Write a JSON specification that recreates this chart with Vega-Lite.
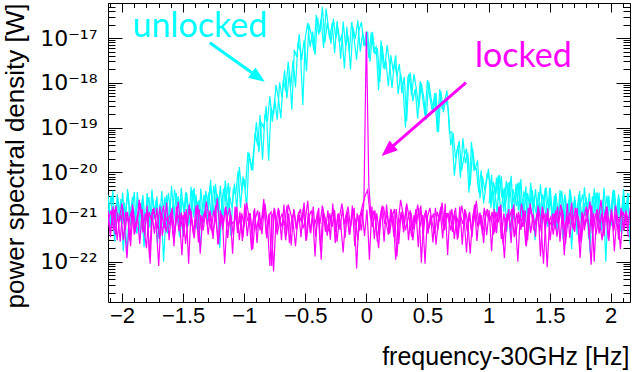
{
"$schema": "https://vega.github.io/schema/vega-lite/v6.json",
"width": 522, "height": 299,
"autosize": "none",
"padding": {"left": 108, "top": 3, "right": 3, "bottom": 70},
"config": {"view": {"stroke": null}, "axis": {"grid": false, "domainColor": "#000", "tickColor": "#000", "labelColor": "#000", "titleColor": "#000", "labelFont": "Liberation Sans", "titleFont": "Liberation Sans", "domainWidth": 1, "tickWidth": 1, "titleFontWeight": "normal"}},
"datasets": {
"curvesA": [
{"x":-2.12,"u":2.5e-21,"l":1.2e-21},{"x":-2.1,"u":5.6e-22,"l":5e-22},{"x":-2.08,"u":1.5e-21,"l":8e-22},{"x":-2.06,"u":2.8e-22,"l":1.5e-21},{"x":-2.04,"u":3.2e-21,"l":3e-22},{"x":-2.02,"u":9.8e-22,"l":1e-21},{"x":-2,"u":7e-22,"l":2e-21},{"x":-1.98,"u":2.1e-21,"l":6e-22},{"x":-1.96,"u":1.4e-22,"l":1.2e-22},{"x":-1.94,"u":1.7e-21,"l":9e-22},{"x":-1.92,"u":1.26e-21,"l":1.4e-21},{"x":-1.9,"u":3.6e-21,"l":4e-22},{"x":-1.88,"u":4.2e-22,"l":7e-22},{"x":-1.86,"u":8.4e-22,"l":2.4e-21},{"x":-1.84,"u":2e-21,"l":1.1e-21},{"x":-1.82,"u":2.1e-22,"l":5.5e-22},{"x":-1.8,"u":1.4e-21,"l":2e-22},{"x":-1.78,"u":2.8e-21,"l":1.3e-21},{"x":-1.76,"u":6.3e-22,"l":8.5e-22},{"x":-1.74,"u":1.1e-21,"l":1.6e-21},{"x":-1.72,"u":2.4e-21,"l":6.5e-22},{"x":-1.7,"u":3.5e-22,"l":8e-23},{"x":-1.68,"u":1.8e-21,"l":1e-21},{"x":-1.66,"u":1e-22,"l":1.8e-21},{"x":-1.64,"u":1.26e-21,"l":4.5e-22},{"x":-1.62,"u":3.4e-21,"l":9.5e-22},
{"x":-1.6,"u":1e-21,"l":1.2e-21},{"x":-1.58,"u":2e-21,"l":3.5e-22},{"x":-1.56,"u":6.3e-22,"l":7.5e-22},{"x":-1.54,"u":2.9e-21,"l":2.2e-21},{"x":-1.52,"u":1.26e-21,"l":6e-22},{"x":-1.5,"u":3.6e-22,"l":1.1e-21},{"x":-1.48,"u":3.4e-21,"l":2.5e-22},{"x":-1.46,"u":1.8e-21,"l":9e-22},{"x":-1.44,"u":7.2e-22,"l":1.5e-21},{"x":-1.42,"u":4e-21,"l":5e-22},{"x":-1.4,"u":1.1e-21,"l":7e-22},{"x":-1.38,"u":2.2e-21,"l":1.9e-21},{"x":-1.36,"u":1.8e-22,"l":1.5e-22},{"x":-1.34,"u":1.5e-21,"l":1e-21},{"x":-1.32,"u":2.7e-21,"l":1.3e-21},
{"x":-1.3,"u":7.5e-22,"l":6.5e-22},{"x":-1.28,"u":5e-21,"l":1.4e-21},{"x":-1.26,"u":1.9e-21,"l":4e-22},{"x":-1.24,"u":1.25e-21,"l":8e-22},{"x":-1.22,"u":3.2e-21,"l":2.6e-21},{"x":-1.2,"u":2e-22,"l":5.5e-22},{"x":-1.18,"u":2.5e-21,"l":1.1e-21},{"x":-1.16,"u":4.5e-21,"l":9e-23},{"x":-1.14,"u":1e-21,"l":9e-22},{"x":-1.12,"u":3e-21,"l":1.6e-21},{"x":-1.1,"u":1.6e-21,"l":7e-22},
{"x":-1.08,"u":5.6e-21,"l":8e-22},{"x":-1.06,"u":1.5e-21,"l":1.7e-21},{"x":-1.04,"u":1.3e-20,"l":3e-22},{"x":-1.02,"u":3.9e-21,"l":1.2e-21},{"x":-1,"u":7e-21,"l":6e-22},{"x":-0.98,"u":1.5e-21,"l":2.1e-21},{"x":-0.96,"u":2.7e-20,"l":9.5e-22},{"x":-0.94,"u":1.1e-20,"l":1.8e-22},{"x":-0.92,"u":3.6e-20,"l":1.4e-21},{"x":-0.9,"u":1.3e-19,"l":5e-22},{"x":-0.88,"u":2.8e-20,"l":1e-21},{"x":-0.86,"u":1.3e-19,"l":7e-22},{"x":-0.84,"u":9.8e-20,"l":2.5e-21},{"x":-0.82,"u":3e-19,"l":4e-22},{"x":-0.8,"u":1.8e-20,"l":1.1e-21},{"x":-0.78,"u":2.75e-19,"l":1.3e-21},{"x":-0.76,"u":1.9e-19,"l":6e-23},{"x":-0.74,"u":9e-19,"l":8e-22},{"x":-0.72,"u":4.5e-19,"l":1.6e-21},{"x":-0.7,"u":1.6e-19,"l":6e-22},{"x":-0.68,"u":1.2e-18,"l":9e-22},{"x":-0.66,"u":6.5e-19,"l":3e-22},{"x":-0.64,"u":3e-18,"l":1.9e-21},{"x":-0.62,"u":8e-19,"l":1.2e-21},{"x":-0.6,"u":3.2e-18,"l":7.5e-22},{"x":-0.58,"u":8e-19,"l":2.2e-22},{"x":-0.56,"u":8e-18,"l":1e-21},{"x":-0.54,"u":5e-18,"l":1.5e-21},{"x":-0.52,"u":3.2e-19,"l":5.5e-22},{"x":-0.5,"u":1.04e-17,"l":8.5e-22},{"x":-0.48,"u":2.2e-17,"l":2.3e-21},{"x":-0.46,"u":6.3e-18,"l":4.5e-22},{"x":-0.44,"u":1.4e-17,"l":1.1e-21},{"x":-0.42,"u":4.2e-18,"l":1.3e-22},{"x":-0.4,"u":2.9e-17,"l":1.3e-21},{"x":-0.38,"u":1.35e-17,"l":7e-22},{"x":-0.36,"u":5e-17,"l":1.8e-21},{"x":-0.34,"u":8e-18,"l":9e-22},{"x":-0.32,"u":2.2e-17,"l":3.8e-22},{"x":-0.3,"u":9.6e-18,"l":1.2e-21},
{"x":-0.28,"u":2.2e-17,"l":6e-22},{"x":-0.26,"u":4.6e-18,"l":1.4e-21},{"x":-0.24,"u":2.4e-17,"l":2.8e-22},{"x":-0.22,"u":8e-18,"l":1e-21},{"x":-0.2,"u":1.2e-17,"l":2e-21},{"x":-0.18,"u":2.1e-18,"l":7e-22},{"x":-0.16,"u":1.8e-17,"l":1.2e-21},{"x":-0.14,"u":5e-18,"l":4e-22},{"x":-0.12,"u":2.3e-17,"l":9e-22},{"x":-0.1,"u":9.5e-18,"l":1.6e-21},{"x":-0.08,"u":3.3e-18,"l":7e-23},{"x":-0.06,"u":1.5e-17,"l":1.1e-21},{"x":-0.04,"u":2.3e-17,"l":5e-22},{"x":-0.02,"u":6.6e-18,"l":2.2e-21},{"x":0,"u":1.4e-17,"l":1.38e-17},
{"x":0.02,"u":3.6e-18,"l":5e-21},{"x":0.04,"u":1.33e-17,"l":9e-22},{"x":0.06,"u":5e-18,"l":1.3e-21},{"x":0.08,"u":6.4e-18,"l":6.5e-22},{"x":0.1,"u":6.8e-19,"l":2e-22},{"x":0.12,"u":8.8e-18,"l":1.1e-21},{"x":0.14,"u":2.1e-18,"l":1.7e-21},{"x":0.16,"u":3.1e-18,"l":8e-22},{"x":0.18,"u":8.4e-19,"l":4e-22},{"x":0.2,"u":4.1e-18,"l":1.5e-21},{"x":0.22,"u":1.8e-18,"l":1e-21},{"x":0.24,"u":4.1e-18,"l":1.1e-22},{"x":0.26,"u":5.6e-19,"l":7e-22},{"x":0.28,"u":1.6e-18,"l":2.4e-21},{"x":0.3,"u":7.7e-19,"l":1.2e-21},{"x":0.32,"u":1e-19,"l":5e-22},{"x":0.34,"u":1.35e-18,"l":9e-22},{"x":0.36,"u":1.6e-18,"l":1.4e-21},{"x":0.38,"u":3.9e-19,"l":3e-22},{"x":0.4,"u":7.3e-19,"l":8e-22},{"x":0.42,"u":1.6e-19,"l":1.9e-21},{"x":0.44,"u":1.08e-18,"l":6e-22},{"x":0.46,"u":4.8e-19,"l":1.1e-21},{"x":0.48,"u":1.85e-19,"l":9e-23},{"x":0.5,"u":1.15e-18,"l":1e-21},{"x":0.52,"u":4.7e-19,"l":1.6e-21},{"x":0.54,"u":2.25e-19,"l":7e-22},{"x":0.56,"u":5.9e-19,"l":4.2e-22},{"x":0.58,"u":8e-20,"l":1.3e-21},{"x":0.6,"u":7.2e-19,"l":8e-22},{"x":0.62,"u":2.6e-19,"l":2.1e-21},{"x":0.64,"u":4e-19,"l":5e-22},{"x":0.66,"u":6.7e-19,"l":1.2e-21},
{"x":0.68,"u":7.6e-20,"l":7e-22},{"x":0.7,"u":8e-20,"l":1.5e-21},{"x":0.72,"u":8.4e-21,"l":3.2e-22},{"x":0.74,"u":2.75e-20,"l":1e-21},{"x":0.76,"u":5e-20,"l":6e-22},{"x":0.78,"u":1.1e-20,"l":1.8e-21},{"x":0.8,"u":2.25e-20,"l":9e-22},{"x":0.82,"u":3.4e-20,"l":1.6e-22},{"x":0.84,"u":3.5e-21,"l":1.2e-21},{"x":0.86,"u":4.8e-20,"l":5e-22},{"x":0.88,"u":1.1e-20,"l":8e-22},{"x":0.9,"u":1.2e-20,"l":2.3e-21},{"x":0.92,"u":3.5e-21,"l":6.5e-22},{"x":0.94,"u":1.1e-20,"l":1.1e-21},{"x":0.96,"u":2e-21,"l":2.6e-22},{"x":0.98,"u":5.3e-21,"l":1.4e-21},{"x":1,"u":1.2e-20,"l":9e-22},
{"x":1.02,"u":1.6e-21,"l":1e-21},{"x":1.04,"u":6e-21,"l":4e-22},{"x":1.06,"u":3.2e-21,"l":1.3e-21},{"x":1.08,"u":8.4e-21,"l":7.5e-22},{"x":1.1,"u":1e-21,"l":1.9e-21},{"x":1.12,"u":3.5e-21,"l":2.4e-22},{"x":1.14,"u":1.9e-21,"l":9e-22},{"x":1.16,"u":5.8e-21,"l":1.2e-21},{"x":1.18,"u":3.2e-22,"l":5.5e-22},{"x":1.2,"u":4.2e-21,"l":1.6e-21},{"x":1.22,"u":2.25e-21,"l":8e-22},{"x":1.24,"u":5.75e-21,"l":1e-22},{"x":1.26,"u":1.25e-21,"l":1.1e-21},{"x":1.28,"u":2.5e-21,"l":6e-22},{"x":1.3,"u":7.5e-22,"l":1.4e-21},{"x":1.32,"u":3.4e-21,"l":3e-22},{"x":1.34,"u":1.4e-21,"l":2e-21},{"x":1.36,"u":4e-21,"l":9.5e-22},{"x":1.38,"u":3e-22,"l":7e-22},{"x":1.4,"u":2.4e-21,"l":1.25e-21},{"x":1.42,"u":1.1e-21,"l":4.8e-22},{"x":1.44,"u":3.2e-21,"l":1.7e-21},{"x":1.46,"u":1.7e-21,"l":1e-21},{"x":1.48,"u":7e-22,"l":7.5e-23},{"x":1.5,"u":4.4e-21,"l":8e-22},
{"x":1.52,"u":9.6e-22,"l":6e-22},{"x":1.54,"u":3e-21,"l":1.2e-21},{"x":1.56,"u":4.8e-22,"l":3.6e-22},{"x":1.58,"u":1.76e-21,"l":9e-22},{"x":1.6,"u":3.8e-21,"l":1.5e-21},{"x":1.62,"u":8e-22,"l":1.4e-22},{"x":1.64,"u":1.44e-21,"l":1.1e-21},{"x":1.66,"u":2.4e-21,"l":7e-22},{"x":1.68,"u":1.9e-22,"l":2.1e-21},{"x":1.7,"u":2.1e-21,"l":5e-22},{"x":1.72,"u":1.2e-21,"l":1.3e-21},{"x":1.74,"u":3.2e-21,"l":8.5e-22},{"x":1.76,"u":6.4e-22,"l":2.8e-22},{"x":1.78,"u":1.6e-21,"l":1e-21},{"x":1.8,"u":2.7e-21,"l":1.7e-21},{"x":1.82,"u":3.2e-22,"l":6.5e-22},{"x":1.84,"u":1.9e-21,"l":8.5e-23},{"x":1.86,"u":1.04e-21,"l":1.2e-21},{"x":1.88,"u":3.5e-21,"l":4e-22},{"x":1.9,"u":5.6e-22,"l":9e-22},{"x":1.92,"u":1.5e-21,"l":2.4e-21},{"x":1.94,"u":2.6e-21,"l":7.5e-22},{"x":1.96,"u":1e-22,"l":1.4e-21},{"x":1.98,"u":2.2e-21,"l":3.2e-22},{"x":2,"u":1.3e-21,"l":1.1e-21},{"x":2.02,"u":4e-21,"l":6e-22},{"x":2.04,"u":7.2e-22,"l":1.8e-21},{"x":2.06,"u":1.76e-21,"l":8e-22},{"x":2.08,"u":4.8e-22,"l":1.9e-22},{"x":2.1,"u":2.9e-21,"l":1.3e-21},{"x":2.12,"u":1.1e-21,"l":9.5e-22},{"x":2.14,"u":3.4e-21,"l":5e-22},{"x":2.16,"u":2.4e-22,"l":1.6e-21}
],
"curvesB": [
{"x":-2.11,"u":1.26e-21,"l":9e-22},{"x":-2.09,"u":2.94e-21,"l":1.4e-21},{"x":-2.07,"u":4.9e-22,"l":5e-22},{"x":-2.05,"u":1.82e-21,"l":1.8e-21},{"x":-2.03,"u":8.4e-22,"l":7.5e-22},{"x":-2.01,"u":2.5e-21,"l":1.1e-21},{"x":-1.99,"u":1.7e-22,"l":3e-22},{"x":-1.97,"u":1.4e-21,"l":1.3e-21},{"x":-1.95,"u":3.5e-21,"l":8e-22},{"x":-1.93,"u":6.3e-22,"l":2.2e-22},{"x":-1.91,"u":1.6e-21,"l":1.6e-21},{"x":-1.89,"u":1.05e-21,"l":6e-22},{"x":-1.87,"u":2.24e-21,"l":1e-21},{"x":-1.85,"u":3.5e-22,"l":2e-21},{"x":-1.83,"u":3.1e-21,"l":4.5e-22},{"x":-1.81,"u":7.7e-22,"l":1.2e-21},{"x":-1.79,"u":1.47e-21,"l":7e-22},{"x":-1.77,"u":5.6e-22,"l":9e-23},{"x":-1.75,"u":2.66e-21,"l":1.5e-21},{"x":-1.73,"u":1.12e-21,"l":9.5e-22},{"x":-1.71,"u":2.5e-22,"l":5.5e-22},{"x":-1.69,"u":1.96e-21,"l":1.7e-21},{"x":-1.67,"u":9.1e-22,"l":3.8e-22},{"x":-1.65,"u":2.8e-21,"l":1.1e-21},{"x":-1.63,"u":4.2e-22,"l":8e-22},
{"x":-1.61,"u":2.16e-21,"l":7e-22},{"x":-1.59,"u":9e-22,"l":1.6e-21},{"x":-1.57,"u":4.1e-21,"l":4e-22},{"x":-1.55,"u":1.53e-21,"l":1.2e-21},{"x":-1.53,"u":3.6e-22,"l":9e-22},{"x":-1.51,"u":2.7e-21,"l":1.4e-22},{"x":-1.49,"u":1.26e-21,"l":1.3e-21},{"x":-1.47,"u":3.4e-21,"l":6e-22},{"x":-1.45,"u":7.2e-22,"l":1.9e-21},{"x":-1.43,"u":2e-21,"l":8.5e-22},{"x":-1.41,"u":4.5e-21,"l":3.3e-22},{"x":-1.39,"u":5.4e-22,"l":1.1e-21},{"x":-1.37,"u":2.4e-21,"l":1.5e-21},{"x":-1.35,"u":1.08e-21,"l":5e-22},{"x":-1.33,"u":3.1e-21,"l":9e-22},{"x":-1.31,"u":1.7e-21,"l":2.2e-21},
{"x":-1.29,"u":3.5e-21,"l":1e-21},{"x":-1.27,"u":1.1e-21,"l":5e-22},{"x":-1.25,"u":5e-21,"l":1.4e-21},{"x":-1.23,"u":1.75e-21,"l":7.5e-22},{"x":-1.21,"u":2.75e-21,"l":2.5e-22},{"x":-1.19,"u":7.5e-22,"l":1.2e-21},{"x":-1.17,"u":4.25e-21,"l":8e-22},{"x":-1.15,"u":2.25e-21,"l":1.7e-21},{"x":-1.13,"u":5.75e-21,"l":6e-22},{"x":-1.11,"u":3.8e-22,"l":1.1e-21},{"x":-1.09,"u":4e-21,"l":4e-22},
{"x":-1.07,"u":3.2e-21,"l":1.3e-21},{"x":-1.05,"u":1.06e-20,"l":6e-22},{"x":-1.03,"u":1.6e-21,"l":1e-21},{"x":-1.01,"u":8e-21,"l":3.5e-22},{"x":-0.99,"u":4.2e-21,"l":1.6e-21},{"x":-0.97,"u":2.8e-20,"l":8e-22},{"x":-0.95,"u":1.8e-20,"l":1.2e-21},{"x":-0.93,"u":1.1e-20,"l":1.9e-22},{"x":-0.91,"u":7.5e-20,"l":9e-22},{"x":-0.89,"u":4e-20,"l":1.4e-21},{"x":-0.87,"u":1.9e-19,"l":5e-22},{"x":-0.85,"u":1.9e-20,"l":1.1e-21},{"x":-0.83,"u":1.95e-19,"l":2e-21},{"x":-0.81,"u":1.36e-19,"l":7e-22},{"x":-0.79,"u":5e-19,"l":8e-23},{"x":-0.77,"u":1.35e-19,"l":1.05e-21},{"x":-0.75,"u":4.2e-19,"l":1.5e-21},{"x":-0.73,"u":1.5e-19,"l":4e-22},{"x":-0.71,"u":1.03e-18,"l":8e-22},{"x":-0.69,"u":4.6e-19,"l":1.2e-21},{"x":-0.67,"u":1.9e-18,"l":6.5e-22},{"x":-0.65,"u":4.5e-19,"l":1.8e-21},{"x":-0.63,"u":1.84e-18,"l":2.6e-22},{"x":-0.61,"u":2.5e-19,"l":9.5e-22},{"x":-0.59,"u":5.4e-18,"l":1.3e-21},{"x":-0.57,"u":3.8e-18,"l":5.5e-22},{"x":-0.55,"u":1.22e-17,"l":1.1e-21},{"x":-0.53,"u":3.2e-18,"l":7.5e-22},{"x":-0.51,"u":8.9e-18,"l":2.1e-21},{"x":-0.49,"u":1.8e-18,"l":3e-22},{"x":-0.47,"u":2e-17,"l":1e-21},{"x":-0.45,"u":1.2e-17,"l":1.4e-21},{"x":-0.43,"u":5.3e-18,"l":6e-22},{"x":-0.41,"u":3.3e-17,"l":9e-22},{"x":-0.39,"u":1.2e-17,"l":1.6e-21},{"x":-0.37,"u":2.7e-17,"l":1.1e-22},{"x":-0.35,"u":6e-18,"l":1.2e-21},{"x":-0.33,"u":4.6e-17,"l":8e-22},{"x":-0.31,"u":1.7e-17,"l":4.8e-22},
{"x":-0.29,"u":7.5e-18,"l":9e-22},{"x":-0.27,"u":2.7e-17,"l":1.5e-21},{"x":-0.25,"u":1e-17,"l":4.5e-22},{"x":-0.23,"u":1.64e-17,"l":1.2e-21},{"x":-0.21,"u":3.4e-18,"l":7e-22},{"x":-0.19,"u":2.35e-17,"l":1.6e-22},{"x":-0.17,"u":6.6e-18,"l":1e-21},{"x":-0.15,"u":1.1e-17,"l":1.7e-21},{"x":-0.13,"u":2e-18,"l":6e-22},{"x":-0.11,"u":1.73e-17,"l":1.3e-21},{"x":-0.09,"u":9.6e-18,"l":8.5e-22},{"x":-0.07,"u":2.5e-17,"l":3e-22},{"x":-0.05,"u":5e-18,"l":1.1e-21},{"x":-0.03,"u":1.32e-17,"l":1.9e-21},{"x":-0.01,"u":6.6e-18,"l":3e-21},
{"x":0.01,"u":1.4e-17,"l":4e-21},{"x":0.03,"u":3e-18,"l":1.1e-21},{"x":0.05,"u":1.39e-17,"l":6e-22},{"x":0.07,"u":4.35e-18,"l":1.4e-21},{"x":0.09,"u":5.9e-18,"l":2.8e-22},{"x":0.11,"u":1.05e-18,"l":9e-22},{"x":0.13,"u":6.7e-18,"l":1.8e-21},{"x":0.15,"u":2e-18,"l":7e-22},{"x":0.17,"u":7e-18,"l":1.2e-21},{"x":0.19,"u":2.6e-18,"l":4.2e-22},{"x":0.21,"u":7.7e-19,"l":1e-21},{"x":0.23,"u":3e-18,"l":1.5e-21},{"x":0.25,"u":1.4e-18,"l":1.3e-22},{"x":0.27,"u":2.64e-18,"l":8e-22},{"x":0.29,"u":5.9e-19,"l":1.3e-21},{"x":0.31,"u":1.37e-18,"l":6.5e-22},{"x":0.33,"u":1.4e-19,"l":2e-21},{"x":0.35,"u":1.6e-18,"l":9.5e-22},{"x":0.37,"u":5.25e-19,"l":3.6e-22},{"x":0.39,"u":1.56e-18,"l":1.1e-21},{"x":0.41,"u":7e-19,"l":7e-22},{"x":0.43,"u":2.75e-19,"l":1.6e-21},{"x":0.45,"u":9.9e-19,"l":9.5e-23},{"x":0.47,"u":4.6e-19,"l":1e-21},{"x":0.49,"u":1.5e-19,"l":1.4e-21},{"x":0.51,"u":1.06e-18,"l":5.5e-22},{"x":0.53,"u":4.6e-19,"l":8.5e-22},{"x":0.55,"u":2.4e-19,"l":1.2e-21},{"x":0.57,"u":5.9e-19,"l":2.4e-22},{"x":0.59,"u":7.8e-20,"l":9e-22},{"x":0.61,"u":6.5e-19,"l":1.7e-21},{"x":0.63,"u":2.2e-19,"l":6e-22},{"x":0.65,"u":4.2e-19,"l":1.15e-21},
{"x":0.67,"u":2.6e-19,"l":1.2e-21},{"x":0.69,"u":4e-20,"l":5e-22},{"x":0.71,"u":7.4e-20,"l":9e-22},{"x":0.73,"u":2e-20,"l":1.6e-21},{"x":0.75,"u":4e-20,"l":3.4e-22},{"x":0.77,"u":7.5e-21,"l":1.1e-21},{"x":0.79,"u":5.75e-20,"l":7e-22},{"x":0.81,"u":1.6e-20,"l":1.4e-21},{"x":0.83,"u":2.75e-20,"l":8e-22},{"x":0.85,"u":5e-21,"l":1.5e-22},{"x":0.87,"u":3.4e-20,"l":1e-21},{"x":0.89,"u":1.13e-20,"l":1.9e-21},{"x":0.91,"u":1.85e-20,"l":6e-22},{"x":0.93,"u":2.6e-21,"l":1.25e-21},{"x":0.95,"u":8.1e-21,"l":4e-22},{"x":0.97,"u":3.9e-21,"l":9e-22},{"x":0.99,"u":9.7e-21,"l":1.5e-21},
{"x":1.01,"u":6.8e-21,"l":8e-22},{"x":1.03,"u":2.4e-21,"l":1.3e-21},{"x":1.05,"u":4.4e-21,"l":4.5e-22},{"x":1.07,"u":1.2e-21,"l":1e-21},{"x":1.09,"u":8.8e-21,"l":1.7e-21},{"x":1.11,"u":2.7e-21,"l":6e-22},{"x":1.13,"u":4.5e-21,"l":1.2e-22},{"x":1.15,"u":4.8e-22,"l":1.1e-21},{"x":1.17,"u":6.1e-21,"l":9e-22},{"x":1.19,"u":1.6e-21,"l":1.5e-21},{"x":1.21,"u":3e-21,"l":3.5e-22},{"x":1.23,"u":1.75e-21,"l":1.2e-21},{"x":1.25,"u":6e-21,"l":7e-22},{"x":1.27,"u":1e-21,"l":2e-21},{"x":1.29,"u":3.75e-21,"l":8.5e-22},{"x":1.31,"u":1.8e-21,"l":2.2e-22},{"x":1.33,"u":5e-22,"l":1.05e-21},{"x":1.35,"u":4e-21,"l":1.4e-21},{"x":1.37,"u":2.2e-21,"l":5e-22},{"x":1.39,"u":1.2e-21,"l":9e-22},{"x":1.41,"u":3.6e-21,"l":1.6e-21},{"x":1.43,"u":7e-22,"l":6.5e-22},{"x":1.45,"u":2.6e-21,"l":9e-23},{"x":1.47,"u":4.6e-21,"l":1.2e-21},{"x":1.49,"u":1.5e-21,"l":7.5e-22},
{"x":1.51,"u":2.1e-21,"l":1e-21},{"x":1.53,"u":6.4e-22,"l":4e-22},{"x":1.55,"u":3.4e-21,"l":1.4e-21},{"x":1.57,"u":1.2e-21,"l":7e-22},{"x":1.59,"u":1.6e-21,"l":1.9e-21},{"x":1.61,"u":3.2e-22,"l":1.1e-21},{"x":1.63,"u":2.7e-21,"l":2.5e-22},{"x":1.65,"u":8.8e-22,"l":9e-22},{"x":1.67,"u":3.8e-21,"l":1.3e-21},{"x":1.69,"u":1.44e-21,"l":5.5e-22},{"x":1.71,"u":2.4e-21,"l":1.6e-21},{"x":1.73,"u":4.8e-22,"l":8e-22},{"x":1.75,"u":1.84e-21,"l":1.2e-22},{"x":1.77,"u":3.2e-21,"l":1.2e-21},{"x":1.79,"u":1.04e-21,"l":6.5e-22},{"x":1.81,"u":2.16e-21,"l":1e-21},{"x":1.83,"u":1.6e-22,"l":2.2e-21},{"x":1.85,"u":2.9e-21,"l":4.2e-22},{"x":1.87,"u":1.36e-21,"l":9.5e-22},{"x":1.89,"u":3.5e-21,"l":1.5e-21},{"x":1.91,"u":7.2e-22,"l":7.5e-22},{"x":1.93,"u":2e-21,"l":3e-22},{"x":1.95,"u":1.12e-21,"l":1.1e-21},{"x":1.97,"u":3e-21,"l":1.7e-21},{"x":1.99,"u":5.6e-22,"l":6e-22},{"x":2.01,"u":1.68e-21,"l":1.3e-21},{"x":2.03,"u":4e-21,"l":1.7e-22},{"x":2.05,"u":9.6e-22,"l":1e-21},{"x":2.07,"u":2.56e-21,"l":8e-22},{"x":2.09,"u":4e-22,"l":1.4e-21},{"x":2.11,"u":2.24e-21,"l":5e-22},{"x":2.13,"u":1.28e-21,"l":1.2e-21},{"x":2.15,"u":3.4e-21,"l":7e-22}
],
"lockedC": [
{"x":-2.115,"l":1.4e-21},{"x":-2.095,"l":3.5e-22},{"x":-2.075,"l":1.7e-21},{"x":-2.055,"l":4e-22},{"x":-2.035,"l":1.2e-21},{"x":-2.015,"l":2.8e-22},{"x":-1.995,"l":1.6e-21},{"x":-1.975,"l":5e-22},{"x":-1.955,"l":1.3e-21},{"x":-1.935,"l":3e-22},{"x":-1.915,"l":1.9e-21},{"x":-1.895,"l":4.5e-22},{"x":-1.875,"l":1.1e-21},{"x":-1.855,"l":2.5e-22},{"x":-1.835,"l":1.5e-21},{"x":-1.815,"l":3.8e-22},{"x":-1.795,"l":1.8e-21},{"x":-1.775,"l":1.2e-22},{"x":-1.755,"l":1.3e-21},{"x":-1.735,"l":4.2e-22},{"x":-1.715,"l":1.6e-21},{"x":-1.695,"l":3.2e-22},{"x":-1.675,"l":1.2e-21},{"x":-1.655,"l":5.5e-22},{"x":-1.635,"l":2.1e-21},{"x":-1.615,"l":3e-22},{"x":-1.595,"l":1.4e-21},{"x":-1.575,"l":2.2e-22},{"x":-1.555,"l":1.7e-21},{"x":-1.535,"l":4.8e-22},{"x":-1.515,"l":1.25e-21},{"x":-1.495,"l":3.6e-22},{"x":-1.475,"l":1.5e-21},{"x":-1.455,"l":9e-23},{"x":-1.435,"l":1.35e-21},{"x":-1.415,"l":4e-22},{"x":-1.395,"l":1.8e-21},{"x":-1.375,"l":2.7e-22},{"x":-1.355,"l":1.1e-21},{"x":-1.335,"l":5e-22},
{"x":-1.315,"l":1.5e-21},{"x":-1.295,"l":4e-22},{"x":-1.275,"l":1.2e-21},{"x":-1.255,"l":3.2e-22},{"x":-1.235,"l":1.8e-21},{"x":-1.215,"l":2.4e-22},{"x":-1.195,"l":1.4e-21},{"x":-1.175,"l":5.2e-22},{"x":-1.155,"l":1.6e-21},{"x":-1.135,"l":3.4e-22},{"x":-1.115,"l":1.15e-21},{"x":-1.095,"l":1.5e-22},{"x":-1.075,"l":1.7e-21},{"x":-1.055,"l":4.4e-22},{"x":-1.035,"l":1.3e-21},{"x":-1.015,"l":2.9e-22},{"x":-0.995,"l":2e-21},{"x":-0.975,"l":3.7e-22},{"x":-0.955,"l":1.2e-21},{"x":-0.935,"l":5e-22},{"x":-0.915,"l":1.55e-21},{"x":-0.895,"l":2.6e-22},{"x":-0.875,"l":1.3e-21},{"x":-0.855,"l":4.1e-22},{"x":-0.835,"l":1.75e-21},{"x":-0.815,"l":3.3e-22},{"x":-0.795,"l":1.1e-21},{"x":-0.775,"l":8e-23},{"x":-0.755,"l":1.6e-21},{"x":-0.735,"l":4.6e-22},{"x":-0.715,"l":1.4e-21},{"x":-0.695,"l":3e-22},{"x":-0.675,"l":1.9e-21},{"x":-0.655,"l":3.9e-22},{"x":-0.635,"l":1.2e-21},{"x":-0.615,"l":2.3e-22},{"x":-0.595,"l":1.5e-21},{"x":-0.575,"l":5.3e-22},{"x":-0.555,"l":1.3e-21},{"x":-0.535,"l":3.5e-22},
{"x":-0.515,"l":1.6e-21},{"x":-0.495,"l":2.9e-22},{"x":-0.475,"l":1.3e-21},{"x":-0.455,"l":4.3e-22},{"x":-0.435,"l":1.7e-21},{"x":-0.415,"l":3.6e-22},{"x":-0.395,"l":1.2e-21},{"x":-0.375,"l":1.8e-22},{"x":-0.355,"l":1.5e-21},{"x":-0.335,"l":4.7e-22},{"x":-0.315,"l":1.4e-21},{"x":-0.295,"l":3.1e-22},{"x":-0.275,"l":2e-21},{"x":-0.255,"l":2.6e-22},{"x":-0.235,"l":1.15e-21},{"x":-0.215,"l":5.1e-22},{"x":-0.195,"l":1.65e-21},{"x":-0.175,"l":3.4e-22},{"x":-0.155,"l":1.3e-21},{"x":-0.135,"l":4e-22},{"x":-0.115,"l":1.8e-21},{"x":-0.095,"l":2.2e-22},{"x":-0.075,"l":1.2e-21},{"x":-0.055,"l":4.9e-22},{"x":-0.035,"l":1.5e-21},{"x":-0.015,"l":3.7e-22},{"x":0.005,"l":1.45e-21},{"x":0.025,"l":1.1e-22},{"x":0.045,"l":1.7e-21},{"x":0.065,"l":3.2e-22},{"x":0.085,"l":1.2e-21},{"x":0.105,"l":4.4e-22},{"x":0.125,"l":1.6e-21},{"x":0.145,"l":2.8e-22},{"x":0.165,"l":1.9e-21},{"x":0.185,"l":5e-22},{"x":0.205,"l":1.3e-21},{"x":0.225,"l":3.6e-22},{"x":0.245,"l":1.5e-21},{"x":0.265,"l":2.5e-22},
{"x":0.285,"l":1.3e-21},{"x":0.305,"l":4.5e-22},{"x":0.325,"l":1.7e-21},{"x":0.345,"l":3e-22},{"x":0.365,"l":1.25e-21},{"x":0.385,"l":5.4e-22},{"x":0.405,"l":1.5e-21},{"x":0.425,"l":2.1e-22},{"x":0.445,"l":1.8e-21},{"x":0.465,"l":3.8e-22},{"x":0.485,"l":1.4e-21},{"x":0.505,"l":4.2e-22},{"x":0.525,"l":1.1e-21},{"x":0.545,"l":2.7e-22},{"x":0.565,"l":1.6e-21},{"x":0.585,"l":5e-22},{"x":0.605,"l":1.35e-21},{"x":0.625,"l":3.3e-22},{"x":0.645,"l":2e-21},{"x":0.665,"l":1.4e-22},{"x":0.685,"l":1.4e-21},{"x":0.705,"l":4.6e-22},{"x":0.725,"l":1.2e-21},{"x":0.745,"l":3.1e-22},{"x":0.765,"l":1.7e-21},{"x":0.785,"l":2.4e-22},{"x":0.805,"l":1.5e-21},{"x":0.825,"l":4.8e-22},{"x":0.845,"l":1.3e-21},{"x":0.865,"l":3.5e-22},{"x":0.885,"l":1.85e-21},{"x":0.905,"l":2.9e-22},{"x":0.925,"l":1.2e-21},{"x":0.945,"l":5.2e-22},{"x":0.965,"l":1.6e-21},{"x":0.985,"l":3.9e-22},{"x":1.005,"l":1.4e-21},{"x":1.025,"l":1.7e-22},{"x":1.045,"l":1.5e-21},{"x":1.065,"l":4.3e-22},
{"x":1.085,"l":1.7e-21},{"x":1.105,"l":3.2e-22},{"x":1.125,"l":1.2e-21},{"x":1.145,"l":4.7e-22},{"x":1.165,"l":1.5e-21},{"x":1.185,"l":2.6e-22},{"x":1.205,"l":1.9e-21},{"x":1.225,"l":3.9e-22},{"x":1.245,"l":1.3e-21},{"x":1.265,"l":5.1e-22},{"x":1.285,"l":1.4e-21},{"x":1.305,"l":2.3e-22},{"x":1.325,"l":1.6e-21},{"x":1.345,"l":4.4e-22},{"x":1.365,"l":1.15e-21},{"x":1.385,"l":3.6e-22},{"x":1.405,"l":1.8e-21},{"x":1.425,"l":1.3e-22},{"x":1.445,"l":1.3e-21},{"x":1.465,"l":4.9e-22},{"x":1.485,"l":1.55e-21},{"x":1.505,"l":3e-22},{"x":1.525,"l":1.2e-21},{"x":1.545,"l":5.3e-22},{"x":1.565,"l":1.7e-21},{"x":1.585,"l":2.8e-22},{"x":1.605,"l":1.4e-21},{"x":1.625,"l":4.1e-22},{"x":1.645,"l":2e-21},{"x":1.665,"l":3.4e-22},{"x":1.685,"l":1.25e-21},{"x":1.705,"l":4.6e-22},{"x":1.725,"l":1.6e-21},{"x":1.745,"l":2.5e-22},{"x":1.765,"l":1.3e-21},{"x":1.785,"l":5e-22},{"x":1.805,"l":1.5e-21},{"x":1.825,"l":3.3e-22},{"x":1.845,"l":1.8e-21},{"x":1.865,"l":1e-22},{"x":1.885,"l":1.4e-21},{"x":1.905,"l":4.2e-22},{"x":1.925,"l":1.2e-21},{"x":1.945,"l":3.7e-22},{"x":1.965,"l":1.7e-21},{"x":1.985,"l":2.9e-22},{"x":2.005,"l":1.5e-21},{"x":2.025,"l":4.8e-22},{"x":2.045,"l":1.3e-21},{"x":2.065,"l":3.1e-22},{"x":2.085,"l":1.6e-21},{"x":2.105,"l":5.2e-22},{"x":2.125,"l":1.4e-21},{"x":2.145,"l":3.5e-22}
],
"unlockedTails": [
{"side":"L","x":-2.115,"u":3.1e-21},{"side":"L","x":-2.095,"u":7e-22},{"side":"L","x":-2.075,"u":3.9e-21},{"side":"L","x":-2.055,"u":4.2e-22},{"side":"L","x":-2.035,"u":2.7e-21},{"side":"L","x":-2.015,"u":8.4e-22},{"side":"L","x":-1.995,"u":3.5e-21},{"side":"L","x":-1.975,"u":5.6e-22},{"side":"L","x":-1.955,"u":4.2e-21},{"side":"L","x":-1.935,"u":9.8e-22},{"side":"L","x":-1.915,"u":2.8e-21},{"side":"L","x":-1.895,"u":4.9e-22},{"side":"L","x":-1.875,"u":3.6e-21},{"side":"L","x":-1.855,"u":7.7e-22},{"side":"L","x":-1.835,"u":2.5e-21},{"side":"L","x":-1.815,"u":3.5e-22},{"side":"L","x":-1.795,"u":3.4e-21},{"side":"L","x":-1.775,"u":6.3e-22},{"side":"L","x":-1.755,"u":4.1e-21},{"side":"L","x":-1.735,"u":9.1e-22},{"side":"L","x":-1.715,"u":2.9e-21},{"side":"L","x":-1.695,"u":5.6e-22},{"side":"L","x":-1.675,"u":3.8e-21},{"side":"L","x":-1.655,"u":7e-22},{"side":"L","x":-1.635,"u":3.1e-21},
{"side":"L","x":-1.615,"u":5.4e-22},{"side":"L","x":-1.595,"u":5e-21},{"side":"L","x":-1.575,"u":1.08e-21},{"side":"L","x":-1.555,"u":3.4e-21},{"side":"L","x":-1.535,"u":7.2e-22},{"side":"L","x":-1.515,"u":4.5e-21},{"side":"L","x":-1.495,"u":1.26e-21},{"side":"L","x":-1.475,"u":3.6e-21},{"side":"L","x":-1.455,"u":6.3e-22},{"side":"L","x":-1.435,"u":4.7e-21},{"side":"L","x":-1.415,"u":9.9e-22},{"side":"L","x":-1.395,"u":3.2e-21},{"side":"L","x":-1.375,"u":4.5e-22},{"side":"L","x":-1.355,"u":4.3e-21},{"side":"L","x":-1.335,"u":8.1e-22},{"side":"L","x":-1.315,"u":3.8e-21},
{"side":"L","x":-1.295,"u":1.6e-21},{"side":"L","x":-1.275,"u":6.75e-21},{"side":"L","x":-1.255,"u":1e-21},{"side":"L","x":-1.235,"u":5.5e-21},{"side":"L","x":-1.215,"u":1.25e-21},{"side":"L","x":-1.195,"u":5e-21},{"side":"L","x":-1.175,"u":7.5e-22},{"side":"L","x":-1.155,"u":6.5e-21},{"side":"L","x":-1.135,"u":1.5e-21},{"side":"L","x":-1.115,"u":4.75e-21},
{"side":"R","x":1.005,"u":2e-21},{"side":"R","x":1.025,"u":8.8e-21},{"side":"R","x":1.045,"u":1.2e-21},{"side":"R","x":1.065,"u":7.6e-21},{"side":"R","x":1.085,"u":2.4e-21},{"side":"R","x":1.105,"u":8e-21},{"side":"R","x":1.125,"u":1.28e-21},{"side":"R","x":1.145,"u":6.4e-21},{"side":"R","x":1.165,"u":2.24e-21},{"side":"R","x":1.185,"u":8.3e-21},{"side":"R","x":1.205,"u":8.8e-22},{"side":"R","x":1.225,"u":5.5e-21},{"side":"R","x":1.245,"u":1.4e-21},{"side":"R","x":1.265,"u":7e-21},{"side":"R","x":1.285,"u":6.3e-22},{"side":"R","x":1.305,"u":4.8e-21},{"side":"R","x":1.325,"u":9e-22},{"side":"R","x":1.345,"u":5.8e-21},{"side":"R","x":1.365,"u":1.3e-21},{"side":"R","x":1.385,"u":4.2e-21},{"side":"R","x":1.405,"u":8e-22},{"side":"R","x":1.425,"u":5.4e-21},{"side":"R","x":1.445,"u":1e-21},{"side":"R","x":1.465,"u":4.4e-21},{"side":"R","x":1.485,"u":6e-22},
{"side":"R","x":1.505,"u":4.5e-21},{"side":"R","x":1.525,"u":9.6e-22},{"side":"R","x":1.545,"u":3e-21},{"side":"R","x":1.565,"u":6.4e-22},{"side":"R","x":1.585,"u":4e-21},{"side":"R","x":1.605,"u":1.1e-21},{"side":"R","x":1.625,"u":3.2e-21},{"side":"R","x":1.645,"u":5.6e-22},{"side":"R","x":1.665,"u":4.2e-21},{"side":"R","x":1.685,"u":8.8e-22},{"side":"R","x":1.705,"u":2.9e-21},{"side":"R","x":1.725,"u":4e-22},{"side":"R","x":1.745,"u":3.8e-21},{"side":"R","x":1.765,"u":7.2e-22},{"side":"R","x":1.785,"u":4.6e-21},{"side":"R","x":1.805,"u":1.04e-21},{"side":"R","x":1.825,"u":3.4e-21},{"side":"R","x":1.845,"u":6.4e-22},{"side":"R","x":1.865,"u":4.3e-21},{"side":"R","x":1.885,"u":8e-22},{"side":"R","x":1.905,"u":3.5e-21},{"side":"R","x":1.925,"u":4.8e-22},{"side":"R","x":1.945,"u":4.5e-21},{"side":"R","x":1.965,"u":9.6e-22},{"side":"R","x":1.985,"u":3e-21},{"side":"R","x":2.005,"u":6.4e-22},{"side":"R","x":2.025,"u":4e-21},{"side":"R","x":2.045,"u":1.1e-21},{"side":"R","x":2.065,"u":3.2e-21},{"side":"R","x":2.085,"u":5.6e-22},{"side":"R","x":2.105,"u":4.2e-21},{"side":"R","x":2.125,"u":8.8e-22},{"side":"R","x":2.145,"u":2.9e-21}
],
"notes": [{"series":"unlocked","label":"unlocked","x":-1.915,"y":1.07e-17},{"series":"locked","label":"locked","x":0.889,"y":2.31e-18}],
"arrows": [{"series":"unlocked","x":-1.2817,"y":7.85e-18,"x2":-0.8845,"y2":1.33e-18},{"series":"locked","x":0.815,"y":1.01e-18,"x2":0.1736,"y2":3.04e-20}],
"heads": [{"series":"unlocked","x":-0.8313,"y":1.05e-18},{"series":"locked","x":0.1245,"y":2.32e-20}]
},
"layer": [
{"data": {"name": "curvesA"},
 "mark": {"type": "line", "color": "#00FFFF", "strokeWidth": 1.2, "clip": true},
 "encoding": {
  "x": {"field": "x", "type": "quantitative", "scale": {"domain": [-2.115, 2.158], "nice": false, "zero": false},
   "axis": {"orient": "bottom", "values": [-2.1,-2,-1.9,-1.8,-1.7,-1.6,-1.5,-1.4,-1.3,-1.2,-1.1,-1,-0.9,-0.8,-0.7,-0.6,-0.5,-0.4,-0.3,-0.2,-0.1,0,0.1,0.2,0.3,0.4,0.5,0.6,0.7,0.8,0.9,1,1.1,1.2,1.3,1.4,1.5,1.6,1.7,1.8,1.9,2,2.1],
    "tickSize": -9, "tickDash": {"condition": {"test": "abs(datum.value*2-round(datum.value*2))>0.01", "value": [4.5, 40]}, "value": [40, 0]},
    "labelExpr": "abs(datum.value*2-round(datum.value*2))>0.01 ? '' : format(datum.value,'~g')",
    "labelFontSize": 22, "labelPadding": 12, "labelFlush": false, "labelOverlap": false,
    "title": "frequency-30GHz [Hz]", "titleFontSize": 25, "titleAlign": "right", "titleBaseline": "alphabetic", "titleX": 521, "titleY": 62}},
  "y": {"field": "u", "type": "quantitative", "scale": {"type": "log", "domain": [1.25e-23, 6.1e-17], "nice": false},
   "axis": {"orient": "left", "values": [2e-23,3e-23,4e-23,5e-23,6e-23,7e-23,8e-23,9e-23,1e-22,2e-22,3e-22,4e-22,5e-22,6e-22,7e-22,8e-22,9e-22,1e-21,2e-21,3e-21,4e-21,5e-21,6e-21,7e-21,8e-21,9e-21,1e-20,2e-20,3e-20,4e-20,5e-20,6e-20,7e-20,8e-20,9e-20,1e-19,2e-19,3e-19,4e-19,5e-19,6e-19,7e-19,8e-19,9e-19,1e-18,2e-18,3e-18,4e-18,5e-18,6e-18,7e-18,8e-18,9e-18,1e-17,2e-17,3e-17,4e-17,5e-17,6e-17],
    "tickSize": -14, "tickDash": {"condition": {"test": "abs(datum.value/pow(10,round(log(datum.value)/LN10))-1)>0.01", "value": [7, 40]}, "value": [40, 0]},
    "labelExpr": "abs(datum.value/pow(10,round(log(datum.value)/LN10))-1)>0.01 ? '' : round(log(datum.value)/LN10)==-17 ? '10⁻¹⁷' : round(log(datum.value)/LN10)==-18 ? '10⁻¹⁸' : round(log(datum.value)/LN10)==-19 ? '10⁻¹⁹' : round(log(datum.value)/LN10)==-20 ? '10⁻²⁰' : round(log(datum.value)/LN10)==-21 ? '10⁻²¹' : '10⁻²²'",
    "labelFont": "DejaVu Sans", "labelFontSize": 22, "labelPadding": 25, "labelFlush": false, "labelOverlap": false,
    "title": "power spectral density [W]", "titleFontSize": 26, "titleAngle": -90, "titleAlign": "right", "titleBaseline": "alphabetic", "titleX": -85, "titleY": 0}}
 }},
{"data": {"name": "curvesB"},
 "mark": {"type": "line", "color": "#00FFFF", "strokeWidth": 1.2, "clip": true},
 "encoding": {
  "x": {"field": "x", "type": "quantitative", "scale": {"domain": [-2.115, 2.158], "nice": false, "zero": false}, "axis": null},
  "y": {"field": "u", "type": "quantitative", "scale": {"type": "log", "domain": [1.25e-23, 6.1e-17], "nice": false}, "axis": null}
 }},
{"data": {"name": "unlockedTails"},
 "mark": {"type": "line", "color": "#00FFFF", "strokeWidth": 1.2, "clip": true},
 "encoding": {
  "x": {"field": "x", "type": "quantitative", "scale": {"domain": [-2.115, 2.158], "nice": false, "zero": false}, "axis": null},
  "y": {"field": "u", "type": "quantitative", "scale": {"type": "log", "domain": [1.25e-23, 6.1e-17], "nice": false}, "axis": null},
  "detail": {"field": "side", "type": "nominal"}
 }},
{"data": {"name": "curvesA"},
 "mark": {"type": "line", "color": "#FF00FF", "strokeWidth": 1.2, "clip": true},
 "encoding": {
  "x": {"field": "x", "type": "quantitative", "scale": {"domain": [-2.115, 2.158], "nice": false, "zero": false},
   "axis": {"orient": "top", "values": [-2.1,-2,-1.9,-1.8,-1.7,-1.6,-1.5,-1.4,-1.3,-1.2,-1.1,-1,-0.9,-0.8,-0.7,-0.6,-0.5,-0.4,-0.3,-0.2,-0.1,0,0.1,0.2,0.3,0.4,0.5,0.6,0.7,0.8,0.9,1,1.1,1.2,1.3,1.4,1.5,1.6,1.7,1.8,1.9,2,2.1],
    "tickSize": -9, "tickDash": {"condition": {"test": "abs(datum.value*2-round(datum.value*2))>0.01", "value": [4.5, 40]}, "value": [40, 0]},
    "labels": false, "title": null}},
  "y": {"field": "l", "type": "quantitative", "scale": {"type": "log", "domain": [1.25e-23, 6.1e-17], "nice": false},
   "axis": {"orient": "right", "values": [2e-23,3e-23,4e-23,5e-23,6e-23,7e-23,8e-23,9e-23,1e-22,2e-22,3e-22,4e-22,5e-22,6e-22,7e-22,8e-22,9e-22,1e-21,2e-21,3e-21,4e-21,5e-21,6e-21,7e-21,8e-21,9e-21,1e-20,2e-20,3e-20,4e-20,5e-20,6e-20,7e-20,8e-20,9e-20,1e-19,2e-19,3e-19,4e-19,5e-19,6e-19,7e-19,8e-19,9e-19,1e-18,2e-18,3e-18,4e-18,5e-18,6e-18,7e-18,8e-18,9e-18,1e-17,2e-17,3e-17,4e-17,5e-17,6e-17],
    "tickSize": -14, "tickDash": {"condition": {"test": "abs(datum.value/pow(10,round(log(datum.value)/LN10))-1)>0.01", "value": [7, 40]}, "value": [40, 0]},
    "labels": false, "title": null}}
 }},
{"data": {"name": "curvesB"},
 "mark": {"type": "line", "color": "#FF00FF", "strokeWidth": 1.2, "clip": true},
 "encoding": {
  "x": {"field": "x", "type": "quantitative", "scale": {"domain": [-2.115, 2.158], "nice": false, "zero": false}, "axis": null},
  "y": {"field": "l", "type": "quantitative", "scale": {"type": "log", "domain": [1.25e-23, 6.1e-17], "nice": false}, "axis": null}
 }},
{"data": {"name": "lockedC"},
 "mark": {"type": "line", "color": "#FF00FF", "strokeWidth": 1.2, "clip": true},
 "encoding": {
  "x": {"field": "x", "type": "quantitative", "scale": {"domain": [-2.115, 2.158], "nice": false, "zero": false}, "axis": null},
  "y": {"field": "l", "type": "quantitative", "scale": {"type": "log", "domain": [1.25e-23, 6.1e-17], "nice": false}, "axis": null}
 }},
{"data": {"name": "arrows"},
 "mark": {"type": "rule", "strokeWidth": 3, "clip": true},
 "encoding": {
  "x": {"field": "x", "type": "quantitative", "scale": {"domain": [-2.115, 2.158], "nice": false, "zero": false}, "axis": null},
  "y": {"field": "y", "type": "quantitative", "scale": {"type": "log", "domain": [1.25e-23, 6.1e-17], "nice": false}, "axis": null},
  "x2": {"field": "x2"}, "y2": {"field": "y2"},
  "color": {"field": "series", "type": "nominal", "scale": {"domain": ["unlocked", "locked"], "range": ["#00FFFF", "#FF00FF"]}, "legend": null}
 }},
{"data": {"name": "heads"},
 "transform": [{"filter": "datum.series == 'unlocked'"}],
 "mark": {"type": "point", "shape": "M0,0L0.8,2L-0.8,2Z", "filled": true, "size": 256, "angle": 125.3, "opacity": 1, "strokeWidth": 0},
 "encoding": {
  "x": {"field": "x", "type": "quantitative", "scale": {"domain": [-2.115, 2.158], "nice": false, "zero": false}, "axis": null},
  "y": {"field": "y", "type": "quantitative", "scale": {"type": "log", "domain": [1.25e-23, 6.1e-17], "nice": false}, "axis": null},
  "color": {"field": "series", "type": "nominal", "scale": {"domain": ["unlocked", "locked"], "range": ["#00FFFF", "#FF00FF"]}, "legend": null}
 }},
{"data": {"name": "heads"},
 "transform": [{"filter": "datum.series == 'locked'"}],
 "mark": {"type": "point", "shape": "M0,0L0.8,2L-0.8,2Z", "filled": true, "size": 256, "angle": 229, "opacity": 1, "strokeWidth": 0},
 "encoding": {
  "x": {"field": "x", "type": "quantitative", "scale": {"domain": [-2.115, 2.158], "nice": false, "zero": false}, "axis": null},
  "y": {"field": "y", "type": "quantitative", "scale": {"type": "log", "domain": [1.25e-23, 6.1e-17], "nice": false}, "axis": null},
  "color": {"field": "series", "type": "nominal", "scale": {"domain": ["unlocked", "locked"], "range": ["#00FFFF", "#FF00FF"]}, "legend": null}
 }},
{"data": {"name": "notes"},
 "mark": {"type": "text", "font": "Lato", "fontSize": 34, "align": "left", "baseline": "alphabetic"},
 "encoding": {
  "x": {"field": "x", "type": "quantitative", "scale": {"domain": [-2.115, 2.158], "nice": false, "zero": false}, "axis": null},
  "y": {"field": "y", "type": "quantitative", "scale": {"type": "log", "domain": [1.25e-23, 6.1e-17], "nice": false}, "axis": null},
  "text": {"field": "label"},
  "color": {"field": "series", "type": "nominal", "scale": {"domain": ["unlocked", "locked"], "range": ["#00FFFF", "#FF00FF"]}, "legend": null}
 }}
],
"resolve": {"axis": {"x": "independent", "y": "independent"}}
}
